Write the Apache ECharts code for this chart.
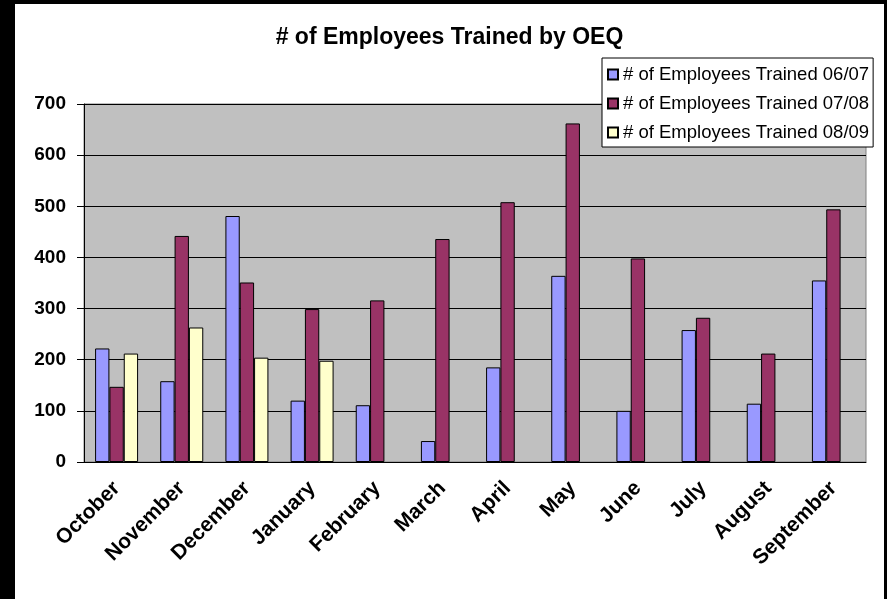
<!DOCTYPE html>
<html>
<head>
<meta charset="utf-8">
<script src="https://cdn.jsdelivr.net/npm/echarts@6/dist/echarts.min.js"></script>
<style>
  html, body { margin: 0; padding: 0; background: #000; }
  #chart { position: absolute; left: 15px; top: 4px; width: 869px; height: 595px; background: #fff; }
</style>
</head>
<body>
<div id="chart"></div>
<script>
// months on the x axis
var months = ["October", "November", "December", "January", "February", "March",
  "April", "May", "June", "July", "August", "September"];

// values
var trained0607 = [222, 158, 481, 120, 111, 41, 185, 364, 100, 258, 114, 355];
var trained0708 = [147, 442, 351, 299, 316, 436, 508, 662, 398, 282, 212, 494];
var trained0809 = [212, 263, 204, 198, null, null, null, null, null, null, null, null];

var seriesNames = ["# of Employees Trained 06/07", "# of Employees Trained 07/08", "# of Employees Trained 08/09"];
var yTicks = { min: 0, max: 700, step: 100 };

var font = "Liberation Sans, Arial, sans-serif";

var Chart = echarts.init(document.getElementById("chart"));

function barSeries(name, data, color) {
  return {
    name: name,
    type: "bar",
    data: data,
    barGap: "0%",
    barCategoryGap: "34%",
    itemStyle: { color: color, borderColor: "#000", borderWidth: 1 }
  };
}

var option = {
  animation: false,
  textStyle: { fontFamily: font },
  title: {
    text: "# of Employees Trained by OEQ",
    left: "center",
    top: 17,
    textStyle: { fontSize: 23, fontWeight: "bold", color: "#000", fontFamily: font }
  },
  legend: {
    orient: "vertical",
    left: 587,
    top: 54,
    padding: [7, 4, 5, 5],
    itemGap: 10,
    itemWidth: 10,
    itemHeight: 10,
    icon: "rect",
    backgroundColor: "#fff",
    borderColor: "#000",
    borderWidth: 1,
    textStyle: { fontSize: 18.5, color: "#000", fontFamily: font },
    data: seriesNames
  },
  grid: {
    left: 69,
    right: 18,
    top: 100,
    bottom: 137,
    show: true,
    backgroundColor: "#C0C0C0",
    borderColor: "#808080",
    borderWidth: 1
  },
  xAxis: {
    type: "category",
    data: months,
    axisLine: { lineStyle: { color: "#000", width: 1 } },
    axisTick: { length: 6, lineStyle: { color: "#000" } },
    axisLabel: {
      interval: 0,
      rotate: 45,
      margin: 23,
      color: "#000",
      fontSize: 21,
      fontWeight: "bold",
      fontFamily: font
    }
  },
  yAxis: {
    type: "value",
    min: yTicks.min,
    max: yTicks.max,
    interval: yTicks.step,
    axisLine: { show: true, lineStyle: { color: "#000", width: 1 } },
    axisTick: { show: true, length: 7, lineStyle: { color: "#000" } },
    splitLine: { lineStyle: { color: "#000", width: 1 } },
    axisLabel: {
      margin: 18,
      color: "#000",
      fontSize: 19,
      fontWeight: "bold",
      fontFamily: font
    }
  },
  series: [
    barSeries(seriesNames[0], trained0607, "#9999FF"),
    barSeries(seriesNames[1], trained0708, "#993366"),
    barSeries(seriesNames[2], trained0809, "#FFFFCC")
  ]
};

Chart.setOption(option);
</script>
</body>
</html>
